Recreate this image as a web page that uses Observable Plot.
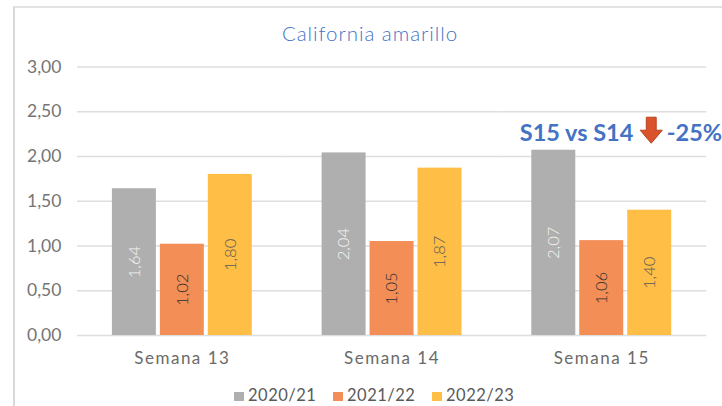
<!DOCTYPE html>
<html><head><meta charset="utf-8">
<script src="https://cdn.jsdelivr.net/npm/d3@7"></script>
<script src="https://cdn.jsdelivr.net/npm/@observablehq/plot@0.6"></script>
<style>
html,body{margin:0;padding:0;background:#fff;width:722px;height:406px;overflow:hidden}
#frame{position:absolute;left:13px;top:6px;right:0;bottom:0;border-left:2px solid #d9d9d9;border-top:2px solid #e2e2e2}
#wrap{position:absolute;left:0;top:0;width:722px;height:406px;font-family:Lato,sans-serif}
#title{position:absolute;left:77px;width:586px;top:22px;text-align:center;font-size:20.5px;letter-spacing:.95px;font-weight:300;color:#4472c4;line-height:22px}
#chart{position:absolute;left:0;top:48px}
#legend{position:absolute;left:0;top:385px;width:722px;height:20px;color:#595959;font-size:16.5px;line-height:20px;letter-spacing:.5px}
#legend span{position:absolute;top:0;white-space:nowrap}
#legend i{display:inline-block;width:10px;height:9px;margin-right:4px;vertical-align:0}
#chart [aria-label="fx-axis tick label"] text{letter-spacing:1.5px}
</style></head><body>
<div id="wrap"><div id="frame"></div><div id="title"></div><div id="chart"></div><div id="legend"></div></div>
<script>
const titleText = "California amarillo";
const weeks = ["Semana 13","Semana 14","Semana 15"];
const seasons = ["2020/21","2021/22","2022/23"];
const colors = ["#afafaf","#f28e56","#ffbe45"];
const labelColors = ["#f4f4f4","#2f2f2f","#595959"];
const s2021 = [1.64,2.04,2.07];
const s2122 = [1.02,1.05,1.06];
const s2223 = [1.80,1.87,1.40];
const yTicks = [0,0.5,1,1.5,2,2.5,3];
const legendLeft = [234,333,432];
const noteWeek = "Semana 15";
const noteY = 2.26;

const comma = d => d.toFixed(2).replace(".",",");
const rows = [];
weeks.forEach((w,i)=>{[s2021,s2122,s2223].forEach((s,j)=>rows.push({week:w,season:seasons[j],value:s[i],lc:labelColors[j]}));});

document.getElementById("title").textContent = titleText;
const leg = document.getElementById("legend");
seasons.forEach((s,i)=>{
  const e=document.createElement("span");
  e.style.left=legendLeft[i]+"px";
  e.innerHTML=`<i style="background:${colors[i]}"></i>${s}`;
  leg.appendChild(e);
});

const font="Lato, sans-serif";
const note = (text,dx)=>Plot.text([{week:noteWeek,season:seasons[1],t:text}],{
  fx:"week",x:"season",y:()=>noteY,text:"t",dx,textAnchor:"start",fill:"#4472c4",fontSize:23.5,fontFamily:font,fontWeight:700
});
const downArrow = {draw(c,size){
  const r=Math.sqrt(size/Math.PI);
  c.moveTo(-.38*r,-r);c.lineTo(.38*r,-r);c.lineTo(.38*r,0);c.lineTo(.85*r,0);
  c.lineTo(0,r);c.lineTo(-.85*r,0);c.lineTo(-.38*r,0);c.closePath();
}};

const chart = Plot.plot({
  width:722,height:332,
  marginTop:18.5,marginBottom:45,marginLeft:77,marginRight:15.9,
  style:{background:"transparent",fontFamily:font,overflow:"hidden"},
  fx:{domain:weeks,paddingInner:0.314,paddingOuter:0.157,round:false,label:null},
  x:{domain:seasons,paddingInner:0.083,paddingOuter:0.0415,round:false,axis:null},
  y:{domain:[0,3],ticks:yTicks,label:null},
  marks:[
    Plot.ruleY(yTicks,{stroke:"#dedede",strokeWidth:1.5,insetLeft:-33,insetRight:-33}),
    Plot.barY(rows,{fx:"week",x:"season",y:"value",fill:d=>colors[seasons.indexOf(d.season)]}),
    Plot.text(rows,{fx:"week",x:"season",y:d=>d.value/2,text:d=>comma(d.value),rotate:-90,fill:"lc",fontSize:16.5,fontWeight:300,fontFamily:font}),
    Plot.axisY({ticks:yTicks,tickFormat:comma,tickSize:0,tickPadding:49,fontSize:17.5,fill:"#757575",label:null}),
    Plot.axisFx({anchor:"bottom",tickSize:0,tickPadding:16,fontSize:17,fill:"#6a6a6a",label:null}),
    note("S15 vs S14",-82),
    Plot.dot([{week:noteWeek,season:seasons[1]}],{fx:"week",x:"season",y:()=>noteY,dx:49.5,dy:-3,r:13,symbol:downArrow,fill:"#d9532c",stroke:"#b8431f",strokeWidth:1}),
    note("-25%",65)
  ]
});
document.getElementById("chart").appendChild(chart);
</script></body></html>
